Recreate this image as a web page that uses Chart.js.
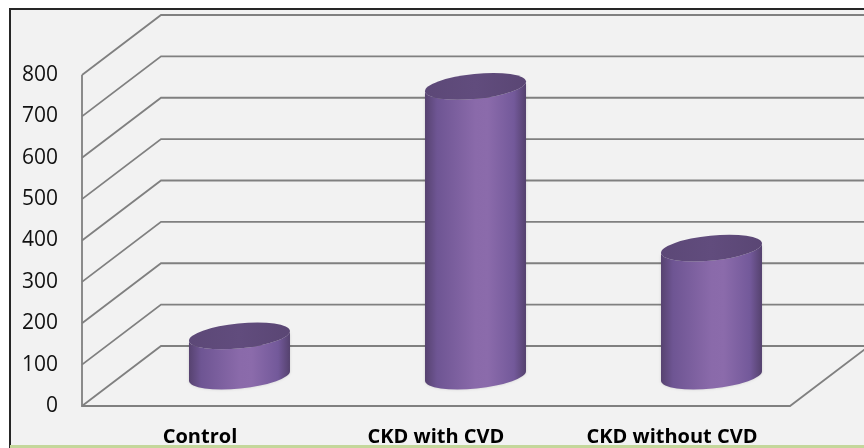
<!DOCTYPE html>
<html>
<head>
<meta charset="utf-8">
<script src="https://cdn.jsdelivr.net/npm/chart.js@4"></script>
<style>
  html, body { margin: 0; padding: 0; background: #fff; }
</style>
</head>
<body>
<canvas id="chart" width="864" height="448"></canvas>
<script>
// Datos del gráfico
const categories = ["Control", "CKD with CVD", "CKD without CVD"];
const values = [97, 700, 309];
const yTicks = [0, 100, 200, 300, 400, 500, 600, 700, 800];

// Profundidad del efecto 3D (px)
const DEPTH_X = 79;
const DEPTH_Y = -60;

// Marco y fondo
const framePlugin = {
  id: "frame",
  beforeDraw(chart) {
    const { ctx, width, height } = chart;
    ctx.save();
    ctx.fillStyle = "#ffffff";
    ctx.fillRect(0, 0, width, height);
    ctx.fillStyle = "#f2f2f2";
    ctx.fillRect(10, 9, width - 10, height - 9);
    ctx.strokeStyle = "#262626";
    ctx.lineWidth = 2;
    ctx.beginPath();
    ctx.moveTo(10, height);
    ctx.lineTo(10, 9);
    ctx.lineTo(width, 9);
    ctx.stroke();
    ctx.restore();
  },
  afterDraw(chart) {
    const { ctx, width, height } = chart;
    ctx.save();
    ctx.fillStyle = "#c4d79b";
    ctx.fillRect(10, height - 3, width - 10, 3);
    ctx.restore();
  }
};

// Paredes 3D: rejilla trasera, diagonales y suelo
const wallsPlugin = {
  id: "walls",
  beforeDatasetsDraw(chart) {
    const { ctx, chartArea: a, scales: { y } } = chart;
    ctx.save();
    ctx.strokeStyle = "#808080";
    ctx.lineWidth = 1.8;
    yTicks.forEach(v => {
      const py = y.getPixelForValue(v);
      ctx.beginPath();
      ctx.moveTo(a.left, py);
      ctx.lineTo(a.left + DEPTH_X, py + DEPTH_Y);
      ctx.lineTo(chart.width, py + DEPTH_Y);
      ctx.stroke();
    });
    const y0 = y.getPixelForValue(0);
    const yMax = y.getPixelForValue(yTicks[yTicks.length - 1]);
    ctx.beginPath();
    ctx.moveTo(a.left, yMax);
    ctx.lineTo(a.left, y0);
    ctx.lineTo(a.right, y0);
    ctx.lineTo(a.right + DEPTH_X, y0 + DEPTH_Y);
    ctx.stroke();
    ctx.restore();
  }
};

// Cilindros dibujados sobre las barras de Chart.js
const cylinderPlugin = {
  id: "cylinders",
  afterDatasetsDraw(chart) {
    const { ctx } = chart;
    const meta = chart.getDatasetMeta(0);
    const rot = -0.1;
    meta.data.forEach(bar => {
      const cx = bar.x + DEPTH_X / 2;
      const top = bar.y + DEPTH_Y / 2;
      const bottom = bar.base + DEPTH_Y / 2;
      const rx = bar.width / 2;
      const ry = 12.5;

      ctx.save();
      ctx.shadowColor = "rgba(0,0,0,0.15)";
      ctx.shadowBlur = 3;
      const grad = ctx.createLinearGradient(cx - rx, 0, cx + rx, 0);
      grad.addColorStop(0, "#56426f");
      grad.addColorStop(0.12, "#6e5593");
      grad.addColorStop(0.5, "#8a6aaa");
      grad.addColorStop(0.62, "#8b6bab");
      grad.addColorStop(0.88, "#73599a");
      grad.addColorStop(1, "#54416d");
      ctx.fillStyle = grad;
      ctx.beginPath();
      ctx.ellipse(cx, bottom, rx, ry, rot, Math.PI, 0, true);
      ctx.ellipse(cx, top, rx, ry, rot, 0, Math.PI, false);
      ctx.closePath();
      ctx.fill();
      ctx.shadowBlur = 0;

      const capGrad = ctx.createLinearGradient(cx - rx, 0, cx + rx, 0);
      capGrad.addColorStop(0, "#5c4877");
      capGrad.addColorStop(0.5, "#614c7d");
      capGrad.addColorStop(1, "#5a4674");
      ctx.fillStyle = capGrad;
      ctx.beginPath();
      ctx.ellipse(cx, top, rx, ry, rot, 0, Math.PI * 2);
      ctx.fill();
      ctx.restore();
    });
  }
};

new Chart(document.getElementById("chart"), {
  type: "bar",
  data: {
    labels: categories,
    datasets: [{
      data: values,
      backgroundColor: "rgba(0,0,0,0)",
      borderWidth: 0,
      barPercentage: 0.43,
      categoryPercentage: 1
    }]
  },
  options: {
    responsive: false,
    animation: false,
    layout: { padding: { left: 10, right: 74, top: 75, bottom: 0 } },
    plugins: {
      legend: { display: false },
      tooltip: { enabled: false }
    },
    scales: {
      x: {
        grid: { display: false, drawTicks: false },
        border: { display: false },
        ticks: {
          color: "#000",
          padding: 19,
          font: { family: "Open Sans", size: 20, weight: "bold" }
        },
        afterFit: s => { s.height = 42; }
      },
      y: {
        min: 0,
        max: 800,
        grid: { display: false, drawTicks: false },
        border: { display: false },
        ticks: {
          stepSize: 100,
          color: "#111",
          padding: 24,
          font: { family: "Open Sans", size: 21 }
        },
        afterFit: s => { s.width = 72; }
      }
    }
  },
  plugins: [framePlugin, wallsPlugin, cylinderPlugin]
});
</script>
</body>
</html>
